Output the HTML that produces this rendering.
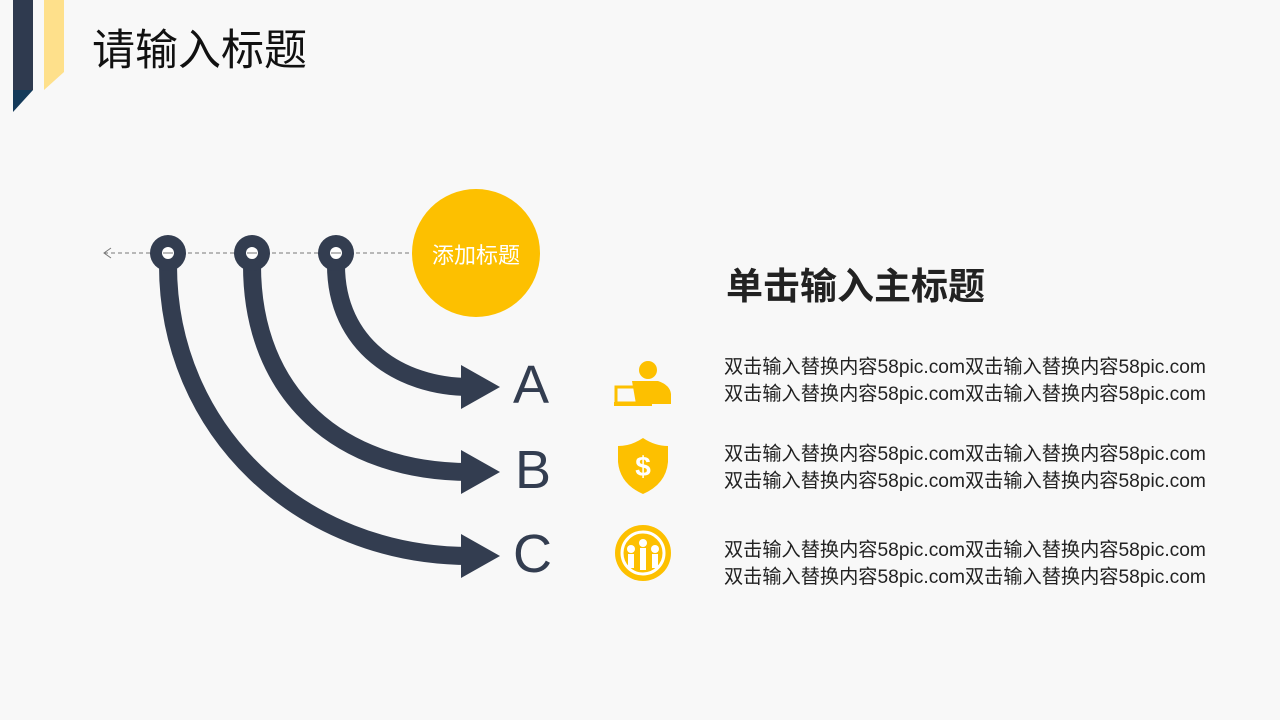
<!DOCTYPE html>
<html><head><meta charset="utf-8"><style>
body{margin:0;width:1280px;height:720px;background:#f8f8f8;overflow:hidden;position:relative;font-family:"Liberation Sans","Noto Sans CJK SC",sans-serif}
.t{position:absolute;white-space:nowrap}
.p{font-size:19.2px;color:#222;line-height:27px;left:724px}
</style></head><body>
<svg width="1280" height="720" style="position:absolute;left:0;top:0">
<polygon points="13,0 33,0 33,90 13,90" fill="#2f3a4f"/>
<polygon points="13,90 33,90 13,112" fill="#143a5a"/>
<polygon points="44,0 64,0 64,72 44,90" fill="#fee08b"/>
<line x1="104" y1="253" x2="414" y2="253" stroke="#777" stroke-width="1" stroke-dasharray="4,3"/>
<polyline points="111,248 104,253 111,258" fill="none" stroke="#777" stroke-width="1"/>
<g fill="none" stroke="#333d50" stroke-width="18">
<path d="M168,265 C168,430 300,556 470,556"/>
<path d="M252,265 C252,395 340,472 470,472"/>
<path d="M336,265 C336,345 400,387 470,387"/>
</g>
<g fill="#333d50">
<polygon points="461,365 500,387 461,409"/>
<polygon points="461,450 500,472 461,494"/>
<polygon points="461,534 500,556 461,578"/>
<circle cx="168" cy="253" r="18"/><circle cx="252" cy="253" r="18"/><circle cx="336" cy="253" r="18"/>
</g>
<g fill="#fff"><circle cx="168" cy="253" r="6"/><circle cx="252" cy="253" r="6"/><circle cx="336" cy="253" r="6"/></g>
<g stroke="#777" stroke-width="1"><line x1="163" y1="253" x2="173" y2="253"/><line x1="247" y1="253" x2="257" y2="253"/><line x1="331" y1="253" x2="341" y2="253"/></g>
<circle cx="476" cy="253" r="64" fill="#fdc000"/>
<g fill="#fdc000">
<circle cx="648" cy="370" r="9"/>
<path d="M632,381 L658,381 Q670,385 671,394 L671,404 L636,404 Z"/>
<rect x="616" y="387" width="22" height="16" fill="none" stroke="#fdc000" stroke-width="3"/>
<rect x="614" y="402" width="38" height="4"/>
<path d="M643,438 Q655,446 668,446 L668,462 Q666,484 643,494 Q620,484 618,462 L618,446 Q631,446 643,438 Z"/>
<circle cx="643" cy="553" r="28"/>
</g>
<text x="643" y="476" text-anchor="middle" font-size="28" font-weight="bold" fill="#fff" font-family="Liberation Sans">$</text>
<circle cx="643" cy="553" r="21" fill="none" stroke="#fff" stroke-width="3"/>
<g fill="#fff">
<circle cx="643" cy="543" r="4"/><rect x="640" y="548" width="6" height="22"/>
<circle cx="631" cy="549" r="4"/><rect x="628" y="554" width="6" height="14"/>
<circle cx="655" cy="549" r="4"/><rect x="652" y="554" width="6" height="14"/>
</g>
</svg>
<div class="t" style="left:92px;top:16px;font-size:43px;color:#111">请输入标题</div>
<div class="t" style="left:412px;top:238px;width:128px;text-align:center;font-size:22px;color:#fff">添加标题</div>
<div class="t" style="left:513px;top:354px;font-size:54px;color:#333d50">A</div>
<div class="t" style="left:515px;top:439px;font-size:54px;color:#333d50">B</div>
<div class="t" style="left:513px;top:523px;font-size:54px;color:#333d50">C</div>
<div class="t" style="left:726px;top:256px;font-size:37px;font-weight:bold;color:#222">单击输入主标题</div>
<div class="t p" style="top:354px">双击输入替换内容58pic.com双击输入替换内容58pic.com<br>双击输入替换内容58pic.com双击输入替换内容58pic.com</div>
<div class="t p" style="top:441px">双击输入替换内容58pic.com双击输入替换内容58pic.com<br>双击输入替换内容58pic.com双击输入替换内容58pic.com</div>
<div class="t p" style="top:537px">双击输入替换内容58pic.com双击输入替换内容58pic.com<br>双击输入替换内容58pic.com双击输入替换内容58pic.com</div>
</body></html>
